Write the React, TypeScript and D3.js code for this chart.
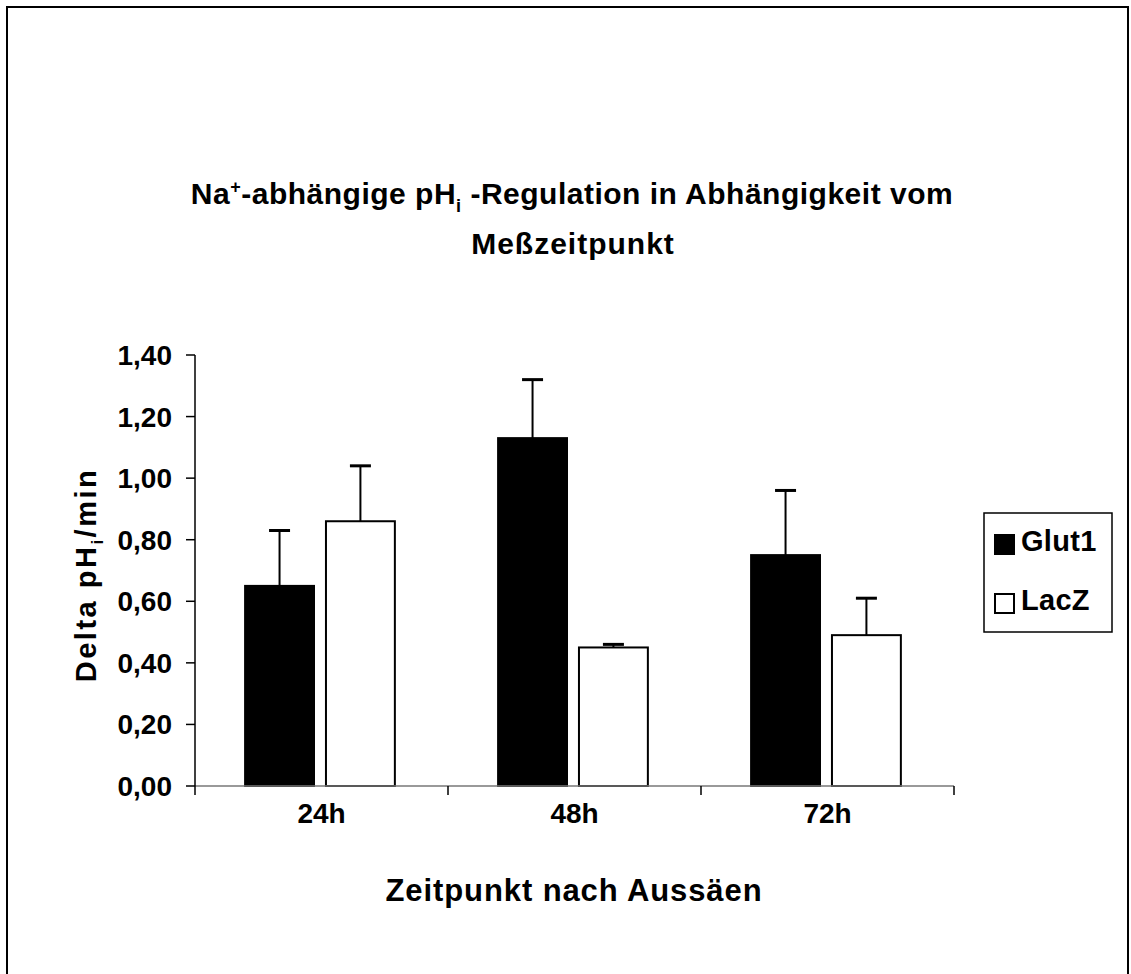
import React from "react";
import * as d3 from "d3";

const categories = ["24h", "48h", "72h"];
const seriesNames = ["Glut1", "LacZ"];
const glut1Values = [0.65, 1.13, 0.75];
const glut1Errors = [0.18, 0.19, 0.21];
const lacZValues = [0.86, 0.45, 0.49];
const lacZErrors = [0.18, 0.01, 0.12];
const yTicks = [0, 0.2, 0.4, 0.6, 0.8, 1.0, 1.2, 1.4];

const W = 1131;
const H = 974;
const FONT = "'Liberation Sans', Arial, sans-serif";

export default function App() {
  const x0 = d3.scaleBand<string>().domain(categories).range([195, 954]).padding(0);
  const cw = x0.bandwidth();
  const x1 = d3
    .scaleBand<string>()
    .domain(seriesNames)
    .range([0.198 * cw, 0.79 * cw])
    .paddingInner(0.148)
    .paddingOuter(0);
  const y = d3.scaleLinear().domain([0, 1.4]).range([786, 355]);

  const series = [
    { name: "Glut1", values: glut1Values, errors: glut1Errors, fill: "#000" },
    { name: "LacZ", values: lacZValues, errors: lacZErrors, fill: "#fff" },
  ];
  const fmt = (v: number) => v.toFixed(2).replace(".", ",");
  const [xa, xb] = x0.range();

  return (
    <svg
      width={W}
      height={H}
      style={{ position: "absolute", left: 0, top: 0, background: "#fff" }}
      fontFamily={FONT}
      fontWeight="bold"
    >
      <rect x={7} y={7} width={1121} height={990} fill="none" stroke="#000" strokeWidth={2} />

      {/* title */}
      <text x={572} y={204} textAnchor="middle" fontSize={30} letterSpacing={0.5}>
        Na<tspan fontSize={18} dy={-11}>+</tspan>
        <tspan dy={11}>-abhängige pH</tspan>
        <tspan fontSize={18} dy={8}>i</tspan>
        <tspan dy={-8}> -Regulation in Abhängigkeit vom</tspan>
      </text>
      <text x={573} y={254} textAnchor="middle" fontSize={30} letterSpacing={1}>
        Meßzeitpunkt
      </text>

      {/* bars */}
      {series.map((s) =>
        categories.map((c, i) => {
          const bx = (x0(c) as number) + (x1(s.name) as number);
          const bw = x1.bandwidth();
          return (
            <rect
              key={s.name + c}
              x={bx}
              y={y(s.values[i])}
              width={bw}
              height={y(0) - y(s.values[i])}
              fill={s.fill}
              stroke="#000"
              strokeWidth={2}
            />
          );
        })
      )}

      {/* axes */}
      <line x1={xa} x2={xb} y1={y(0)} y2={y(0)} stroke="#777" strokeWidth={1.5} />
      <line x1={xa} x2={xa} y1={y(0) + 9} y2={y(1.4)} stroke="#000" strokeWidth={1.5} />
      {yTicks.map((t) => (
        <g key={t}>
          <line x1={xa - 9} x2={xa} y1={y(t)} y2={y(t)} stroke="#000" strokeWidth={1.5} />
          <text x={172} y={y(t) + 10} textAnchor="end" fontSize={28}>
            {fmt(t)}
          </text>
        </g>
      ))}
      {categories.map((c) => (
        <line
          key={c}
          x1={(x0(c) as number) + cw}
          x2={(x0(c) as number) + cw}
          y1={y(0)}
          y2={y(0) + 9}
          stroke="#000"
          strokeWidth={1.5}
        />
      ))}
      {categories.map((c) => (
        <text
          key={c}
          x={(x0(c) as number) + cw / 2}
          y={823}
          textAnchor="middle"
          fontSize={28}
        >
          {c}
        </text>
      ))}

      {/* error bars */}
      {series.map((s) =>
        categories.map((c, i) => {
          const cx = (x0(c) as number) + (x1(s.name) as number) + x1.bandwidth() / 2;
          const top = y(s.values[i] + s.errors[i]);
          return (
            <g key={"e" + s.name + c} stroke="#000" strokeWidth={2}>
              <line x1={cx} x2={cx} y1={y(s.values[i])} y2={top} />
              <line x1={cx - 10.5} x2={cx + 10.5} y1={top} y2={top} strokeWidth={3} />
            </g>
          );
        })
      )}

      {/* axis titles */}
      <text
        transform={`translate(96, 575) rotate(-90)`}
        textAnchor="middle"
        fontSize={29}
        letterSpacing={2.5}
      >
        Delta pH<tspan fontSize={17} dy={7}>i</tspan>
        <tspan dy={-7}>/min</tspan>
      </text>
      <text x={574} y={901} textAnchor="middle" fontSize={31} letterSpacing={0.9}>
        Zeitpunkt nach Aussäen
      </text>

      {/* legend */}
      <rect x={984} y={513} width={128} height={119} fill="#fff" stroke="#000" strokeWidth={1.5} />
      {series.map((s, i) => (
        <g key={"l" + s.name}>
          <rect
            x={995}
            y={535 + i * 59}
            width={19}
            height={19}
            fill={s.fill}
            stroke="#000"
            strokeWidth={2}
          />
          <text x={1021} y={551 + i * 59} fontSize={29} letterSpacing={0.3}>
            {s.name}
          </text>
        </g>
      ))}
    </svg>
  );
}
